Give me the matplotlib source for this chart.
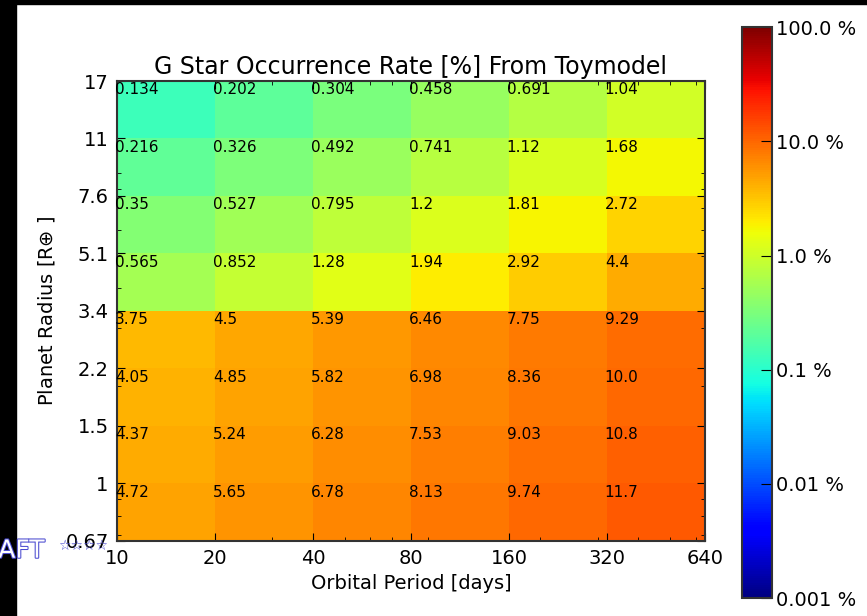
import matplotlib
matplotlib.use('Agg')
import matplotlib.pyplot as plt
import matplotlib.patheffects as pe
from matplotlib.colors import LogNorm
from matplotlib.patches import Rectangle
import numpy as np

# Zellgrenzen (Periode in Tagen, Radius in Erdradien)
period_edges = [10, 20, 40, 80, 160, 320, 640]
radius_edges = [0.67, 1.005, 1.508, 2.261, 3.392, 5.088, 7.632, 11.45, 17.17]
radius_ticklabels = ['0.67', '1', '1.5', '2.2', '3.4', '5.1', '7.6', '11', '17']
period_ticklabels = ['10', '20', '40', '80', '160', '320', '640']

# Rate in %, Zeilen von unten (0.67-1) nach oben (11-17)
row_067 = [4.72, 5.65, 6.78, 8.13, 9.74, 11.7]
row_1 = [4.37, 5.24, 6.28, 7.53, 9.03, 10.8]
row_15 = [4.05, 4.85, 5.82, 6.98, 8.36, 10.0]
row_22 = [3.75, 4.5, 5.39, 6.46, 7.75, 9.29]
row_34 = [0.565, 0.852, 1.28, 1.94, 2.92, 4.4]
row_51 = [0.35, 0.527, 0.795, 1.2, 1.81, 2.72]
row_76 = [0.216, 0.326, 0.492, 0.741, 1.12, 1.68]
row_11 = [0.134, 0.202, 0.304, 0.458, 0.691, 1.04]

cbar_ticks = [0.001, 0.01, 0.1, 1.0, 10.0, 100.0]
cbar_labels = ['0.001 %', '0.01 %', '0.1 %', '1.0 %', '10.0 %', '100.0 %']

rates = np.array([row_067, row_1, row_15, row_22, row_34, row_51, row_76, row_11])

fig = plt.figure(figsize=(8.67, 6.16), dpi=100)
ax = fig.add_axes([0.135, 0.1218, 0.678, 0.7467])
cax = fig.add_axes([0.856, 0.029, 0.034, 0.927])

norm = LogNorm(vmin=0.001, vmax=100)
mesh = ax.pcolormesh(period_edges, radius_edges, rates, cmap='jet', norm=norm)
ax.set_xscale('log')
ax.set_yscale('log')
ax.set_xlim(period_edges[0], period_edges[-1])
ax.set_ylim(radius_edges[0], radius_edges[-1])

# Werte in die linke obere Ecke jeder Zelle schreiben
for i in range(len(radius_edges) - 1):
    for j in range(len(period_edges) - 1):
        ax.text(period_edges[j] * 0.985, radius_edges[i + 1] * 0.99, str(rates[i, j]),
                ha='left', va='top', fontsize=11, color='black')

ax.set_xticks(period_edges)
ax.set_xticklabels(period_ticklabels)
ax.set_yticks(radius_edges)
ax.set_yticklabels(radius_ticklabels)
ax.tick_params(which='both', direction='in', top=True, right=True, labelsize=14, pad=6)
ax.tick_params(which='major', length=6)
ax.tick_params(which='minor', length=3)
for s in ax.spines.values():
    s.set_linewidth(1.5)
    s.set_color('#333333')

ax.set_title('G Star Occurrence Rate [%] From Toymodel', fontsize=17, pad=5)
ax.set_xlabel('Orbital Period [days]', fontsize=14)
ax.set_ylabel(r'Planet Radius [R$\oplus$ ]', fontsize=14, labelpad=6)

cb = fig.colorbar(mesh, cax=cax)
cb.set_ticks(cbar_ticks)
cb.set_ticklabels(cbar_labels)
cb.minorticks_off()
cax.tick_params(direction='in', length=8, labelsize=14)
cb.outline.set_linewidth(1.5)
cb.outline.set_edgecolor('#333333')

# schwarzer Rand links und oben
fig.patches.append(Rectangle((0, 0), 16 / 867, 1, transform=fig.transFigure,
                             color='black', zorder=5))
fig.patches.append(Rectangle((0, 1 - 4 / 616), 1, 4 / 616, transform=fig.transFigure,
                             color='black', zorder=5))

# Wasserzeichen
fig.text(-0.002, 0.106, 'AFT', fontsize=18, color='white', va='center', ha='left', zorder=10,
         path_effects=[pe.withStroke(linewidth=1.5, foreground='#4a4ad0')])
fig.text(0.067, 0.113, '☆☆☆☆', fontsize=10, color='#4a4ad0', va='center', ha='left', zorder=10)

fig.savefig('out.png', dpi=100)
